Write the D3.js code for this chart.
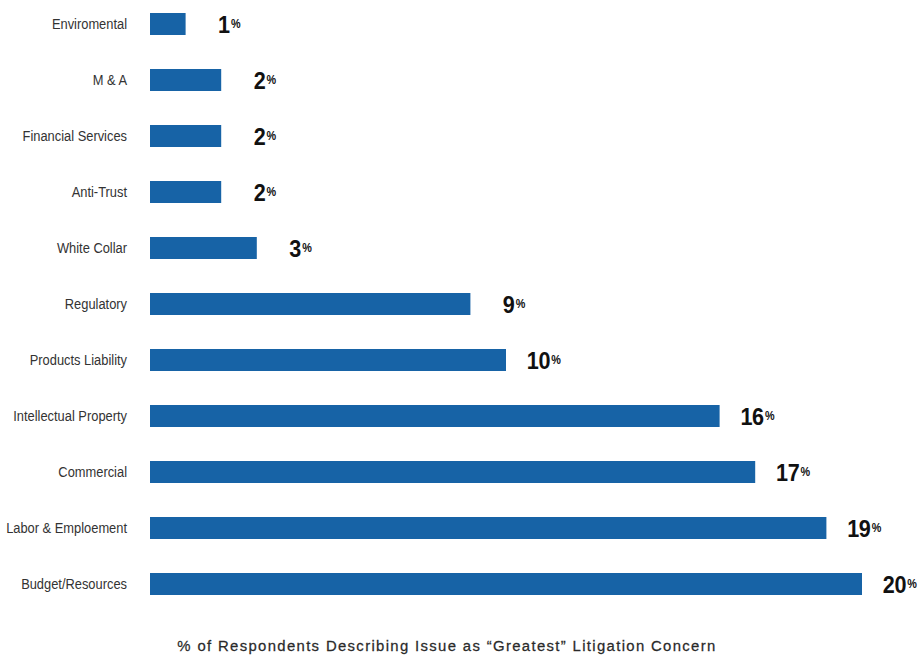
<!DOCTYPE html>
<html>
<head>
<meta charset="utf-8">
<script src="https://cdn.jsdelivr.net/npm/d3@7"></script>
<style>
  html, body { margin: 0; padding: 0; background: #fff; }
  svg { display: block; }
  text { font-family: "Liberation Sans", Arial, sans-serif; }
</style>
</head>
<body>
<svg id="chart" width="923" height="656"></svg>
<script>
// Litigation concerns, ordered top to bottom
const categories = [
  "Enviromental", "M & A", "Financial Services", "Anti-Trust", "White Collar",
  "Regulatory", "Products Liability", "Intellectual Property", "Commercial",
  "Labor & Emploement", "Budget/Resources"
];
const values = [1, 2, 2, 2, 3, 9, 10, 16, 17, 19, 20];
const axisTitle = "% of Respondents Describing Issue as \u201cGreatest\u201d Litigation Concern";

const svg = d3.select("#chart");
const left = 150;

const x = d3.scaleLinear().domain([0, 20]).range([left, 862]);
const y = d3.scaleBand().domain(categories).range([-4, 612]).paddingInner(0.6).paddingOuter(0.3);
const cy = c => y(c) + y.bandwidth() / 2;

const rows = svg.selectAll("g.row")
  .data(categories.map((c, i) => ({ c, v: values[i] })))
  .join("g").attr("class", "row");

rows.append("rect")
  .attr("x", x(0))
  .attr("y", d => cy(d.c) - 11)
  .attr("width", d => x(d.v) - x(0))
  .attr("height", 22)
  .attr("fill", "#1763a6");

// category names, condensed
rows.append("g")
  .attr("transform", d => `translate(127,${cy(d.c)}) scale(0.92,1)`)
  .append("text")
  .attr("dy", "0.36em")
  .attr("text-anchor", "end")
  .attr("font-size", 14)
  .attr("fill", "#333")
  .text(d => d.c);

// value labels: big number plus small percent sign
const lab = rows.append("g")
  .attr("transform", d => `translate(${x(d.v) + 44},${cy(d.c)}) scale(0.9,1)`);

lab.append("text")
  .attr("dy", "0.36em")
  .attr("text-anchor", "end")
  .attr("font-size", 24)
  .attr("font-weight", "bold")
  .attr("letter-spacing", -0.5)
  .attr("fill", "#111")
  .text(d => d.v);

lab.append("text")
  .attr("x", 1.5)
  .attr("dy", "0.36em")
  .attr("font-size", 12)
  .attr("font-weight", "bold")
  .attr("fill", "#111")
  .text("%");

svg.append("g")
  .attr("transform", "translate(447,651) scale(0.96,1)")
  .append("text")
  .attr("text-anchor", "middle")
  .attr("font-size", 15.5)
  .attr("letter-spacing", 1.4)
  .attr("fill", "#2a2a2a")
  .attr("stroke", "#2a2a2a")
  .attr("stroke-width", 0.25)
  .text(axisTitle);
</script>
</body>
</html>
